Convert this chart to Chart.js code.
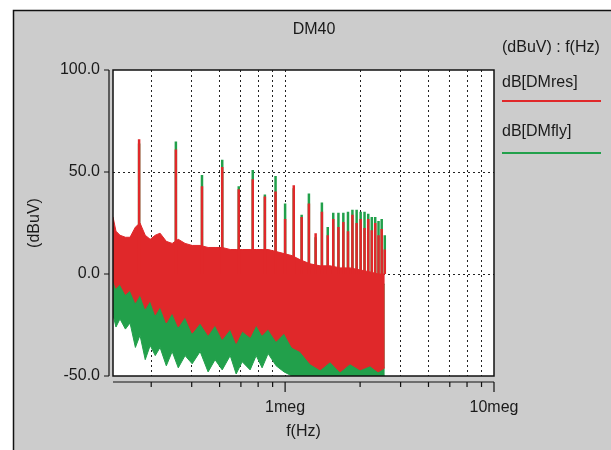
<!DOCTYPE html>
<html>
<head>
<meta charset="utf-8">
<script src="https://cdn.jsdelivr.net/npm/chart.js"></script>
<style>
  html, body { margin: 0; padding: 0; background: #fff; }
  canvas { display: block; }
</style>
</head>
<body>
<canvas id="dm40Chart" width="611" height="450"></canvas>
<script>
// noise floor envelope (kHz / dBuV)
const noiseFreqKHz = [150, 155, 162, 172, 181, 192, 202, 214, 226, 239, 252, 270, 288, 308, 332, 359, 392, 428, 462, 500,
                      546, 583, 623, 680, 727, 776, 829, 906, 989, 1080, 1180, 1317, 1471, 1642, 1833, 2046, 2285, 2551, 2786, 3000];
const resTop    = [28, 21, 19, 18, 18, 23, 25, 19, 17, 19, 20, 16, 15, 17, 15, 14, 14, 13, 13, 13,
                   12, 12, 12, 12, 12, 12, 12, 11, 10, 9, 7, 5, 4, 4, 3, 3, 2, 1, 0, 0];
const resBottom = [-3, -7, -5, -10, -8, -14, -10, -17, -13, -20, -16, -24, -19, -26, -21, -29, -24, -30, -25, -32,
                   -27, -34, -28, -31, -25, -30, -27, -33, -29, -36, -38, -44, -47, -43, -48, -44, -47, -45, -48, -46];
const flyTop    = [20, 16, 14, 13, 13, 16, 18, 14, 12, 14, 15, 11, 10, 12, 10, 9, 9, 8, 8, 8,
                   7, 7, 7, 7, 7, 7, 7, 6, 5, 4, 2, 0, -1, -1, -2, -2, -3, -4, -5, -5];
const flyBottom = [-20, -26, -22, -27, -24, -36, -30, -42, -35, -40, -36, -45, -38, -46, -40, -44, -38, -48, -42, -47,
                   -40, -49, -43, -47, -40, -46, -39, -45, -48, -50, -50, -50, -50, -50, -50, -50, -50, -50, -50, -50];

// switching harmonics (kHz) and their peak levels
const harmonicKHz = [200, 300, 400, 500, 600, 700, 800, 900, 1000, 1100, 1200, 1300, 1400, 1500, 1600,
                     1700, 1800, 1900, 2000, 2100, 2200, 2300, 2400, 2500, 2600, 2700, 2800, 2900, 3000];
const resPeak = [66, 61, 43, 52.5, 41.5, 46.5, 38, 40.5, 27, 43.5, 28, 34.5, 20, 30.5, 19,
                 27, 23, 25.5, 21, 29, 25, 27, 22.5, 27, 21.5, 25, 19, 22, 12];
const flyPeak = [64, 65, 48.5, 56, 43, 51, 39, 48, 34.5, 42, 29, 39.5, 18, 35, 23,
                 30, 30, 30, 30.5, 31.5, 31.5, 30.5, 30.5, 29.5, 28, 28, 26, 27, 19];
const spikeBase = 0;

const xTickHz = [228571, 357143, 485714, 614286, 742857, 871429, 1000000,
                 2285714, 3571429, 4857143, 6142857, 7428571, 8714286, 10000000];
const xTickText = { 1000000: '1meg', 10000000: '10meg' };
const seriesNames = ['dB[DMres]', 'dB[DMfly]'];

const RED = '#e0282a';
const GREEN = '#22a04b';
const INK = '#1a1a1a';
const FONT = '"Liberation Sans", Arial, sans-serif';

function envelope(vals) {
  return noiseFreqKHz.map((f, i) => ({ x: f * 1000, y: vals[i] }));
}
function spikes(peaks) {
  const out = [];
  harmonicKHz.forEach((f, i) => {
    out.push({ x: f * 1000, y: spikeBase });
    out.push({ x: f * 1000, y: peaks[i] });
    out.push({ x: f * 1000, y: null });
  });
  return out;
}

const frame = {
  id: 'frame',
  beforeDraw(chart) {
    const { ctx, chartArea: a, width, height } = chart;
    ctx.save();
    ctx.fillStyle = '#fff';
    ctx.fillRect(0, 0, width, height);
    ctx.fillStyle = '#cccccc';
    ctx.fillRect(13, 10, width - 13, height - 10);
    ctx.strokeStyle = '#111';
    ctx.lineWidth = 1.5;
    ctx.beginPath();
    ctx.moveTo(13.5, height);
    ctx.lineTo(13.5, 10.5);
    ctx.lineTo(width, 10.5);
    ctx.stroke();
    ctx.fillStyle = '#fff';
    ctx.fillRect(a.left, a.top, a.right - a.left, a.bottom - a.top);
    ctx.restore();
  },
  afterDatasetsDraw(chart) {
    const { ctx, chartArea: a } = chart;
    ctx.save();
    ctx.strokeStyle = '#111';
    ctx.lineWidth = 1.5;
    ctx.strokeRect(a.left, a.top, a.right - a.left, a.bottom - a.top);
    ctx.restore();
  },
  afterDraw(chart) {
    const { ctx, chartArea: a, scales } = chart;
    ctx.save();
    ctx.strokeStyle = '#111';
    ctx.lineWidth = 1.2;
    // offset y axis
    const ax = a.left - 4;
    ctx.beginPath();
    ctx.moveTo(ax, a.top);
    ctx.lineTo(ax, a.bottom);
    scales.y.ticks.forEach(t => {
      const py = scales.y.getPixelForValue(t.value);
      ctx.moveTo(ax - 5, py);
      ctx.lineTo(ax, py);
    });
    // offset x axis
    const ay = a.bottom + 6;
    ctx.moveTo(a.left, ay);
    ctx.lineTo(a.right, ay);
    scales.x.ticks.forEach(t => {
      const px = scales.x.getPixelForValue(t.value);
      ctx.moveTo(px, ay);
      ctx.lineTo(px, ay + (xTickText[t.value] ? 10 : 5));
    });
    ctx.stroke();

    ctx.fillStyle = INK;
    ctx.font = '16px ' + FONT;
    ctx.textBaseline = 'middle';
    ctx.textAlign = 'center';
    ctx.fillText('DM40', 314, 30);
    ctx.textAlign = 'left';
    ctx.fillText('(dBuV) : f(Hz)', 502, 48);
    ctx.fillText(seriesNames[0], 502, 83);
    ctx.fillText(seriesNames[1], 502, 132);
    ctx.lineWidth = 2;
    ctx.strokeStyle = RED;
    ctx.beginPath(); ctx.moveTo(502, 101); ctx.lineTo(601, 101); ctx.stroke();
    ctx.strokeStyle = GREEN;
    ctx.beginPath(); ctx.moveTo(502, 153); ctx.lineTo(601, 153); ctx.stroke();
    ctx.restore();
  }
};

const ctx = document.getElementById('dm40Chart').getContext('2d');
new Chart(ctx, {
  type: 'line',
  data: {
    datasets: [
      { label: seriesNames[0], data: spikes(resPeak), borderColor: RED, borderWidth: 2.5, spanGaps: false, order: 0 },
      { label: 'res top', data: envelope(resTop), borderColor: RED, backgroundColor: RED, borderWidth: 1, fill: 2, order: 1 },
      { label: 'res bottom', data: envelope(resBottom), borderColor: RED, borderWidth: 1, fill: false, order: 1 },
      { label: seriesNames[1], data: spikes(flyPeak), borderColor: GREEN, borderWidth: 2.5, spanGaps: false, order: 2 },
      { label: 'fly top', data: envelope(flyTop), borderColor: GREEN, backgroundColor: GREEN, borderWidth: 1, fill: 5, order: 3 },
      { label: 'fly bottom', data: envelope(flyBottom), borderColor: GREEN, borderWidth: 1, fill: false, order: 3 }
    ]
  },
  options: {
    responsive: false,
    animation: false,
    devicePixelRatio: 1,
    elements: { point: { radius: 0 }, line: { tension: 0 } },
    layout: { padding: { left: 13, top: 70, right: 117, bottom: 0 } },
    plugins: { legend: { display: false }, tooltip: { enabled: false } },
    scales: {
      x: {
        type: 'logarithmic',
        min: 150000,
        max: 10000000,
        afterBuildTicks: (s) => { s.ticks = xTickHz.map(v => ({ value: v })); },
        afterFit: (s) => { s.height = 74; },
        ticks: {
          autoSkip: false, maxRotation: 0, padding: 22, color: INK,
          font: { family: FONT, size: 16 },
          callback: (v) => xTickText[v] || ''
        },
        grid: {
          drawTicks: false,
          color: (c) => (c.tick && c.tick.value < 10000000 ? '#222' : 'transparent'),
          lineWidth: 1
        },
        border: { display: false, dash: [2, 3] },
        title: { display: true, text: 'f(Hz)', color: INK, font: { family: FONT, size: 16 }, padding: { top: 0, bottom: 9 } }
      },
      y: {
        min: -50,
        max: 100,
        afterFit: (s) => { s.width = 100; },
        ticks: {
          stepSize: 50, padding: 13, color: INK,
          font: { family: FONT, size: 16 },
          callback: (v) => v.toFixed(1)
        },
        grid: {
          drawTicks: false,
          color: (c) => (c.tick && (c.tick.value === 0 || c.tick.value === 50) ? '#222' : 'transparent'),
          lineWidth: 1
        },
        border: { display: false, dash: [2, 3] },
        title: { display: true, text: '(dBuV)', color: INK, font: { family: FONT, size: 16 }, padding: { top: 12, bottom: 0 } }
      }
    }
  },
  plugins: [frame]
});
</script>
</body>
</html>
